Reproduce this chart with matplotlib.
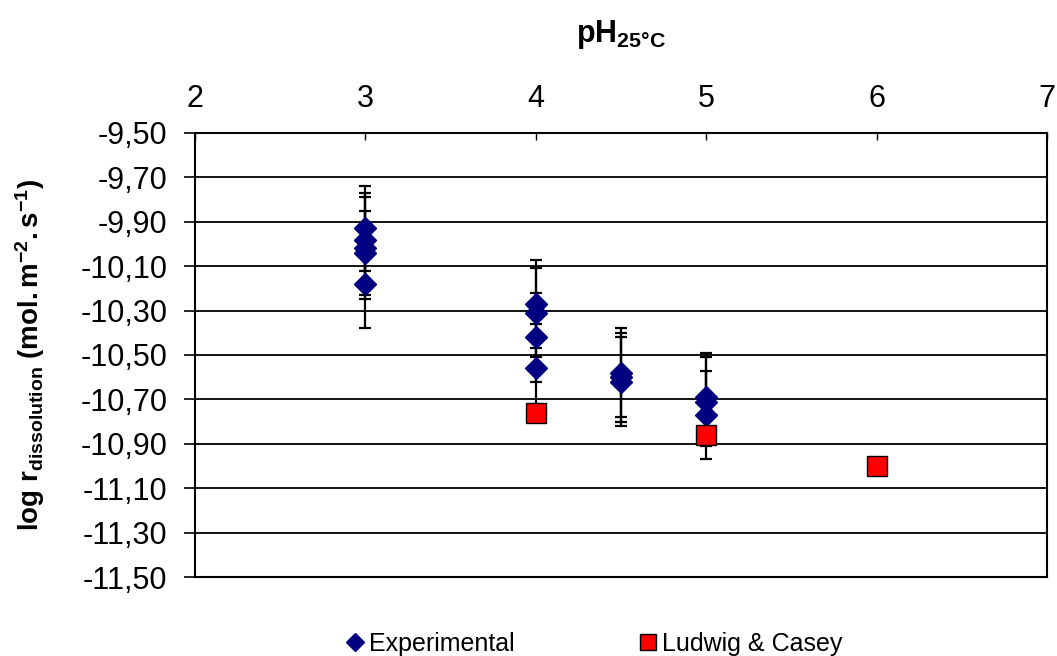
import matplotlib
matplotlib.use('Agg')
import matplotlib.pyplot as plt
from matplotlib.lines import Line2D

plt.rcParams['font.family'] = ['Liberation Sans', 'DejaVu Sans']
plt.rcParams['mathtext.fontset'] = 'custom'
plt.rcParams['mathtext.rm'] = 'Liberation Sans'
plt.rcParams['mathtext.bf'] = 'Liberation Sans:bold'
plt.rcParams['mathtext.it'] = 'Liberation Sans:italic'

# Données expérimentales (pH, log r, incertitude)
exp_ph = [3, 3, 3, 3, 3, 4, 4, 4, 4, 4.5, 4.5, 4.5, 5, 5, 5]
exp_log_r = [-9.93, -9.98, -10.02, -10.04, -10.18,
             -10.27, -10.31, -10.42, -10.56,
             -10.58, -10.60, -10.62,
             -10.69, -10.71, -10.77]
exp_err = [0.19, 0.21, 0.23, 0.19, 0.20,
           0.20, 0.20, 0.20, 0.20,
           0.20, 0.20, 0.20,
           0.20, 0.20, 0.20]

# Ludwig & Casey
lc_ph = [4, 5, 6]
lc_log_r = [-10.76, -10.86, -11.00]

x_ticks = [2, 3, 4, 5, 6, 7]
y_ticks = [-9.5, -9.7, -9.9, -10.1, -10.3, -10.5, -10.7, -10.9, -11.1, -11.3, -11.5]
y_labels = [f"{v:.2f}".replace('.', ',') for v in y_ticks]

fig = plt.figure(figsize=(10.57, 6.56), dpi=100)
ax = fig.add_axes([0.1845, 0.1204, 0.806, 0.6769])

ax.errorbar(exp_ph, exp_log_r, yerr=exp_err, fmt='none', ecolor='black',
            elinewidth=1.6, capsize=4.5, capthick=1.6, zorder=2)
ax.plot(exp_ph, exp_log_r, linestyle='none', marker='D', markersize=11.5,
        color='#000080', markeredgecolor='#000080', zorder=3)
ax.plot(lc_ph, lc_log_r, linestyle='none', marker='s', markersize=14.5,
        color='#FF0000', markeredgecolor='black', markeredgewidth=1.0, zorder=4)

ax.set_xlim(2, 7)
ax.set_ylim(-11.5, -9.5)
ax.set_xticks(x_ticks)
ax.set_yticks(y_ticks)
ax.set_yticklabels(y_labels)
ax.xaxis.tick_top()
ax.xaxis.set_label_position('top')
ax.tick_params(axis='x', direction='in', length=5, width=1, labelsize=22, pad=14)
ax.tick_params(axis='y', direction='out', length=8, width=1.2, labelsize=22, pad=12)

for y in y_ticks[1:-1]:
    ax.axhline(y, color='black', linewidth=1.3, zorder=1)
for s in ax.spines.values():
    s.set_color('black')
    s.set_linewidth(1.5)

ax.set_xlabel(r'$\mathbf{pH_{25°C}}$', fontsize=22, labelpad=30)
ax.set_ylabel(r'$\mathbf{log\ r_{dissolution}\ (mol.m^{-2}.s^{-1})}$', fontsize=20, labelpad=24)

handles = [
    Line2D([], [], linestyle='none', marker='D', markersize=9, color='#000080'),
    Line2D([], [], linestyle='none', marker='s', markersize=11, color='#FF0000',
           markeredgecolor='black', markeredgewidth=1.0),
]
fig.legend(handles, ['Experimental', 'Ludwig & Casey'], loc='center',
           bbox_to_anchor=(0.562, 0.018), ncol=2, frameon=False, fontsize=18,
           handlelength=0.7, handletextpad=0.2, columnspacing=5.0)

fig.savefig('out.png', dpi=100)
